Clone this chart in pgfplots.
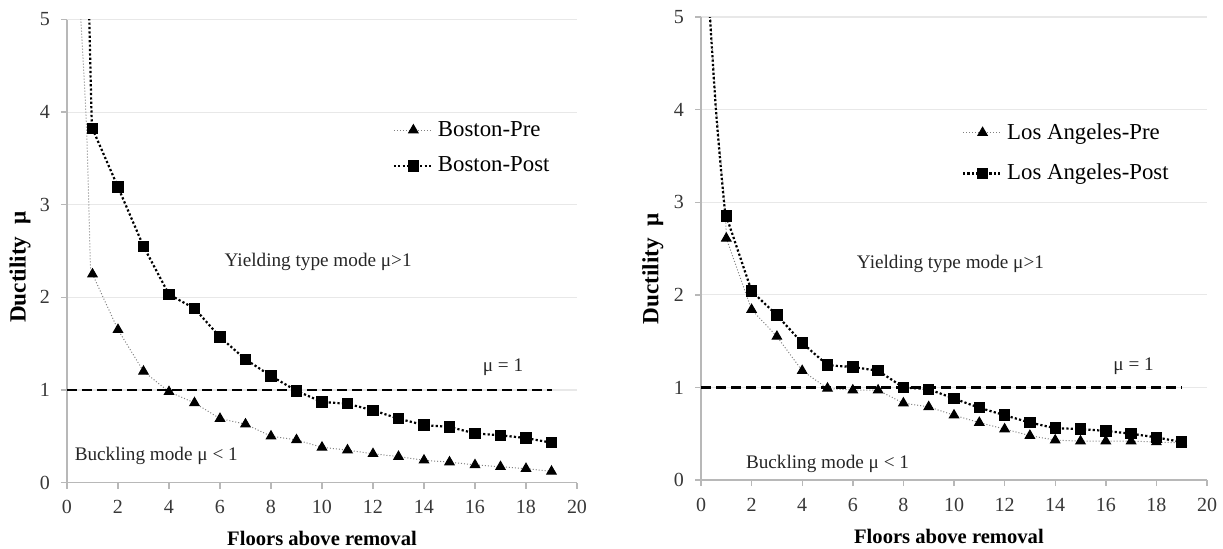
\documentclass[border=0pt]{standalone}
\usepackage{fontspec}
\setmainfont{Liberation Serif}
\usepackage{pgfplots}
\pgfplotsset{compat=1.18}

\pgfplotsset{
  duct/.style={
    scale only axis, height=231.5pt,
    xmin=0, xmax=20, ymin=0, ymax=5,
    xtick={0,2,...,20}, ytick={0,1,...,5},
    axis x line*=bottom, axis y line*=left,
    axis line style={draw=black!28, line width=0.7pt, -},
    tick style={draw=black!28, line width=0.7pt},
    tick align=outside, major tick length=3pt,
    ymajorgrids, major grid style={draw=black!9, line width=0.6pt},
    tick label style={font=\fontsize{10}{12}\selectfont, text=black!78},
    xticklabel style={yshift=-2.5pt},
    yticklabel style={xshift=-2pt},
    /pgf/number format/assume math mode=true,
    xlabel={\bfseries Floors above removal},
    ylabel={\bfseries Ductility\ \ μ},
    xlabel style={font=\fontsize{10.3}{12}\selectfont},
    ylabel style={font=\fontsize{11.6}{13}\selectfont},
    legend style={draw=none, fill=none, font=\fontsize{11.4}{13}\selectfont,
      anchor=north west, row sep=5pt, inner sep=0pt},
    legend cell align=left,
    legend image code/.code={\draw[mark repeat=2,mark phase=2,#1]
      plot coordinates {(0pt,0pt)(9.75pt,0pt)(19.5pt,0pt)};},
  },
  pre/.style={black!50, line width=0.5pt, densely dotted, mark=triangle*,
    mark size=2.7pt, mark options={solid, fill=black, draw=black}},
  post/.style={black, line width=1.1pt, dash pattern=on 1.1pt off 1.1pt,
    mark=square*, mark size=2.3pt, mark options={solid, fill=black, draw=black}},
  pretail/.style={black!50, line width=0.5pt, densely dotted, smooth, forget plot},
  posttail/.style={black, line width=1.1pt, dash pattern=on 1.1pt off 1.1pt, smooth, forget plot},
  muone/.style={black, line width=1.4pt, dash pattern=on 5pt off 2.5pt, forget plot},
}
\tikzset{note/.style={font=\fontsize{9.6}{11}\selectfont, text=black!85}}

\begin{document}
\begin{tikzpicture}
\path[use as bounding box] (0,0) rectangle (611.5pt,274pt);

% Boston
\begin{axis}[duct, at={(33.5pt,32.75pt)}, anchor=south west, width=255pt,
  xlabel style={at={(axis description cs:0.5,-0.12)}, anchor=center},
  ylabel style={at={(axis description cs:-0.092,0.465)}, anchor=center},
  legend style={at={(axis description cs:0.638,0.79)}}]
\addplot[pre] coordinates {
  (1,2.25) (2,1.65) (3,1.20) (4,0.98) (5,0.86) (6,0.69) (7,0.63) (8,0.50)
  (9,0.46) (10,0.38) (11,0.35) (12,0.31) (13,0.28) (14,0.24) (15,0.22)
  (16,0.19) (17,0.17) (18,0.15) (19,0.12)};
\addlegendentry{Boston-Pre}
\addplot[post] coordinates {
  (1,3.82) (2,3.19) (3,2.55) (4,2.03) (5,1.88) (6,1.57) (7,1.33) (8,1.15)
  (9,0.99) (10,0.87) (11,0.85) (12,0.78) (13,0.69) (14,0.62) (15,0.60)
  (16,0.53) (17,0.51) (18,0.48) (19,0.43)};
\addlegendentry{Boston-Post}
\addplot[pretail] coordinates {(0.48,5.3) (0.74,4) (0.85,3.06) (0.92,2.35) (1,2.25)};
\addplot[posttail] coordinates {(0.85,5.3) (0.96,4) (1,3.82)};
\addplot[muone] coordinates {(0,1) (19,1)};
\node[note] at (9.85,2.38) {Yielding type mode μ>1};
\node[note] at (17.1,1.24) {μ = 1};
\node[note] at (3.5,0.29) {Buckling mode μ < 1};
\end{axis}

% Los Angeles
\begin{axis}[duct, at={(350.5pt,34pt)}, anchor=south west, width=253pt,
  xlabel style={at={(axis description cs:0.49,-0.122)}, anchor=center},
  ylabel style={at={(axis description cs:-0.095,0.456)}, anchor=center},
  legend style={at={(axis description cs:0.515,0.78)}, row sep=7pt}]
\addplot[pre] coordinates {
  (1,2.61) (2,1.84) (3,1.55) (4,1.18) (5,0.99) (6,0.97) (7,0.97) (8,0.83)
  (9,0.79) (10,0.70) (11,0.62) (12,0.55) (13,0.48) (14,0.43) (15,0.42)
  (16,0.42) (17,0.42) (18,0.41) (19,0.40)};
\addlegendentry{Los Angeles-Pre}
\addplot[post] coordinates {
  (1,2.85) (2,2.04) (3,1.78) (4,1.48) (5,1.24) (6,1.22) (7,1.18) (8,1.00)
  (9,0.98) (10,0.88) (11,0.78) (12,0.70) (13,0.62) (14,0.56) (15,0.55)
  (16,0.53) (17,0.50) (18,0.46) (19,0.41)};
\addlegendentry{Los Angeles-Post}
\addplot[pretail] coordinates {(0.30,5.3) (0.61,4) (0.93,3) (1,2.61)};
\addplot[posttail] coordinates {(0.29,5.3) (0.59,4) (0.91,3) (1,2.85)};
\addplot[muone] coordinates {(0,1) (19,1)};
\node[note] at (9.86,2.33) {Yielding type mode μ>1};
\node[note] at (17.1,1.23) {μ = 1};
\node[note] at (5.0,0.17) {Buckling mode μ < 1};
\end{axis}
\end{tikzpicture}
\end{document}
